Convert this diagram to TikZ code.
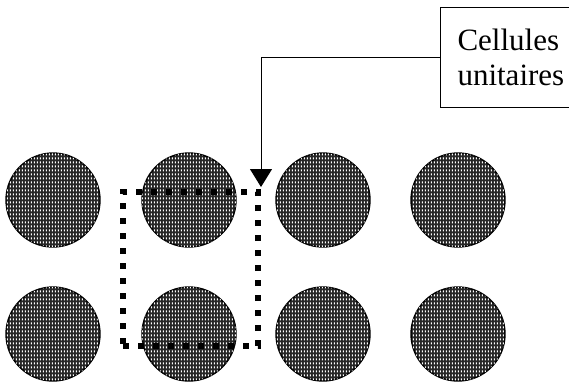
\documentclass[tikz,border=0pt]{standalone}
\usepackage{fontspec}
\setmainfont{Liberation Serif}
\usetikzlibrary{arrows.meta,patterns}

% fine brick-like texture of the atoms: light strokes on a dark ground
\pgfdeclarepatternformonly{atomtexture}{\pgfpointorigin}{\pgfpoint{3.3pt}{3.6pt}}{\pgfpoint{3.3pt}{3.6pt}}{%
  \pgfpathrectangle{\pgfpoint{1.0pt}{0.6pt}}{\pgfpoint{1.2pt}{2.4pt}}%
  \pgfusepath{fill}%
}

\tikzset{
  atom/.style={circle, draw=black, line width=1.4pt, minimum size=94pt, inner sep=0pt,
    fill=black!85, postaction={pattern=atomtexture, pattern color=white}},
  cellframe/.style={draw=black, line width=6pt, dash pattern=on 6pt off 9pt,
    minimum width=135pt, minimum height=154pt, inner sep=0pt},
  labelbox/.style={draw=black, line width=1pt, minimum height=100pt, minimum width=150pt,
    anchor=north west, align=left, inner xsep=17pt,
    font=\fontsize{31}{35}\selectfont},
  pointer/.style={-{Triangle[length=18pt,width=22pt]}, line width=1pt}
}

\begin{document}
\begin{tikzpicture}[x=1pt,y=-1pt]
  \useasboundingbox (0,0) rectangle (569,384);
  \begin{scope}
    \clip (0,0) rectangle (569,384);

    % two rows of four atoms
    \node[atom] (a11) at (53,200) {};
    \node[atom] (a12) at (189,200) {};
    \node[atom] (a13) at (323,200) {};
    \node[atom] (a14) at (458,200) {};
    \node[atom] (a21) at (53,334) {};
    \node[atom] (a22) at (189,334) {};
    \node[atom] (a23) at (323,334) {};
    \node[atom] (a24) at (458,334) {};

    % dotted frame of the unit cell
    \node[cellframe] (cell) at (190.5,269) {};

    % caption box, running past the right edge
    \node[labelbox, text width=120pt] (caption) at (440,7) {Cellules\\unitaires};

    % leader from the caption to the cell
    \draw[pointer] (caption.west) -| ([yshift=2pt]cell.north east);
  \end{scope}
\end{tikzpicture}
\end{document}
